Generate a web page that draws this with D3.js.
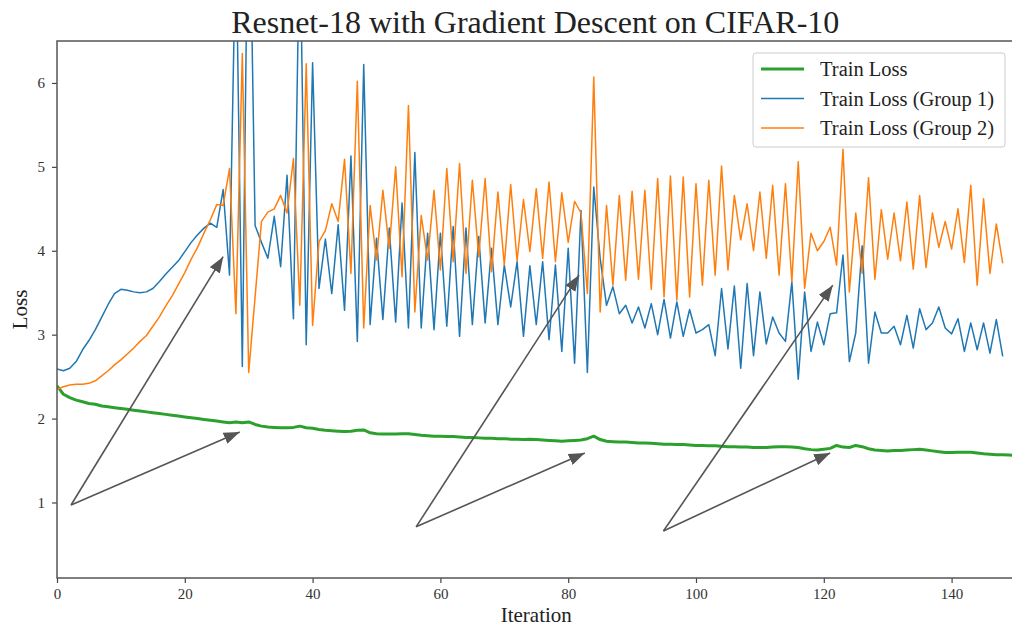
<!DOCTYPE html>
<html>
  <head>
    <title>Resnet-18 with Gradient Descent on CIFAR-10</title>
    <style>
      body,
      html {
        margin: 0;
        padding: 0;
        background: #fff;
      }
      svg {
        display: block;
        font-family: 'Liberation Serif', 'DejaVu Serif', serif;
      }
    </style>
  </head>
  <body>
    <svg id="svg" width="1012" height="627"></svg>
    <script src="https://cdn.jsdelivr.net/npm/d3@7"></script>
    <script>
      // values, one per iteration
      const trainLoss = [
        2.39, 2.29, 2.25, 2.22, 2.2, 2.18, 2.17, 2.15, 2.14, 2.13,
        2.12, 2.11, 2.1, 2.09, 2.08, 2.07, 2.06, 2.05, 2.04, 2.03,
        2.02, 2.01, 2.0, 1.99, 1.98, 1.97, 1.96, 1.95, 1.96, 1.95,
        1.96, 1.93, 1.91, 1.9, 1.895, 1.89, 1.89, 1.895, 1.91, 1.89,
        1.885, 1.87, 1.86, 1.855, 1.85, 1.845, 1.85, 1.86, 1.865, 1.83,
        1.82, 1.815, 1.815, 1.815, 1.82, 1.82, 1.81, 1.8, 1.795, 1.79,
        1.79, 1.785, 1.785, 1.78, 1.775, 1.775, 1.77, 1.765, 1.765, 1.76,
        1.76, 1.755, 1.755, 1.75, 1.755, 1.75, 1.745, 1.74, 1.735, 1.73,
        1.735, 1.74, 1.745, 1.76, 1.79, 1.75, 1.73, 1.725, 1.72, 1.72,
        1.715, 1.71, 1.71, 1.705, 1.7, 1.695, 1.695, 1.69, 1.69, 1.685,
        1.68, 1.68, 1.675, 1.675, 1.67, 1.665, 1.665, 1.66, 1.66, 1.655,
        1.655, 1.655, 1.66, 1.665, 1.665, 1.66, 1.655, 1.64, 1.63, 1.625,
        1.635, 1.645, 1.68, 1.66, 1.655, 1.68, 1.665, 1.64, 1.625, 1.62,
        1.615, 1.62, 1.62, 1.625, 1.63, 1.635, 1.625, 1.615, 1.605, 1.595,
        1.595, 1.6, 1.6, 1.6, 1.59, 1.58, 1.575, 1.57, 1.57, 1.565,
        1.56
      ];
      const group1Loss = [
        2.59, 2.57, 2.6, 2.68, 2.82, 2.93, 3.06, 3.21, 3.36, 3.49,
        3.54, 3.53, 3.51, 3.5, 3.51, 3.55, 3.63, 3.72, 3.8, 3.88,
        3.99, 4.1, 4.19, 4.27, 4.33, 4.28, 4.73, 3.71, 7.8, 2.62,
        9.0, 4.3, 4.1, 3.91, 4.41, 3.81, 4.9, 3.19, 7.9, 2.88,
        6.24, 3.55, 4.14, 3.49, 4.31, 3.29, 5.13, 2.92, 6.22, 3.12,
        4.15, 3.18, 4.27, 3.15, 4.57, 3.08, 5.17, 3.08, 4.21, 3.06,
        4.21, 3.1, 4.29, 2.98, 4.27, 3.12, 4.17, 3.14, 4.03, 3.12,
        3.83, 3.33, 3.87, 2.98, 3.82, 3.12, 3.87, 2.94, 3.83, 2.8,
        4.03, 2.66, 4.48, 2.55, 4.76, 3.91, 3.35, 3.57, 3.25, 3.35,
        3.14, 3.33, 3.08, 3.37, 3.0, 3.42, 2.96, 3.39, 2.98, 3.3,
        3.02, 3.06, 3.12, 2.75, 3.55, 2.83, 3.58, 2.6, 3.61, 2.75,
        3.51, 2.89, 3.21, 3.02, 2.92, 3.63, 2.47, 3.51, 2.8, 3.15,
        2.88, 3.25, 3.26, 3.95, 2.68, 3.02, 4.06, 2.66, 3.27, 3.02,
        3.02, 3.1, 2.88, 3.23, 2.84, 3.31, 3.06, 3.14, 3.33, 3.08,
        3.01, 3.19, 2.8, 3.14, 2.82, 3.14, 2.78, 3.18, 2.74
      ];
      const group2Loss = [
        2.35, 2.38, 2.4, 2.41, 2.41, 2.42, 2.45, 2.51, 2.57, 2.64,
        2.7, 2.77, 2.84, 2.92, 2.99, 3.1, 3.21, 3.34, 3.46, 3.6,
        3.74, 3.9, 4.04, 4.21, 4.37, 4.55, 4.54, 4.98, 3.25, 6.35,
        2.55, 3.45, 4.35, 4.46, 4.5, 4.66, 4.45, 5.1, 3.35, 6.23,
        3.11, 4.11, 4.24, 4.56, 4.35, 5.09, 3.73, 6.02, 3.08, 4.54,
        3.89, 4.72, 4.03, 5.0, 3.69, 5.73, 3.27, 4.42, 3.89, 4.72,
        3.77, 4.98, 3.87, 5.04, 3.73, 4.84, 3.93, 4.86, 3.75, 4.7,
        3.83, 4.79, 3.88, 4.61, 3.99, 4.74, 3.91, 4.82, 3.87, 4.69,
        4.1, 4.59, 4.45, 3.49, 6.07, 3.27, 4.54, 3.59, 4.66, 3.65,
        4.71, 3.66, 4.72, 3.54, 4.86, 3.45, 4.89, 3.41, 4.88, 3.45,
        4.8, 3.59, 4.84, 3.71, 5.01, 3.77, 4.66, 4.13, 4.56, 4.0,
        4.7, 3.91, 4.78, 3.71, 4.8, 3.63, 5.06, 3.55, 4.21, 4.0,
        4.11, 4.28, 3.83, 5.21, 3.51, 4.45, 3.73, 4.87, 3.66, 4.49,
        3.9, 4.45, 3.88, 4.58, 3.78, 4.66, 3.8, 4.45, 4.04, 4.35,
        4.02, 4.5, 3.86, 4.78, 3.59, 4.62, 3.73, 4.32, 3.85
      ];
      const seriesNames = ['Train Loss', 'Train Loss (Group 1)', 'Train Loss (Group 2)'];
      const xTicks = [0, 20, 40, 60, 80, 100, 120, 140];
      const yTicks = [1, 2, 3, 4, 5, 6];
      // annotation arrows, in data units: one tail, two heads each
      const arrowTails = [[2.2, 0.97], [56.2, 0.71], [94.9, 0.66]];
      const arrowHeads = [
        [[26.0, 3.93], [28.6, 1.84]],
        [[81.7, 3.71], [82.6, 1.59]],
        [[121.4, 3.59], [121.0, 1.59]]
      ];

      const colors = ['#2ca02c', '#1f77b4', '#ff7f0e'];
      const widths = [3, 1.5, 1.5];
      const plotLeft = 57;
      const plotTop = 41;
      const plotBottom = 578;
      const plotRight = 1015.5;

      const x = d3.scaleLinear().domain([0, 150]).range([plotLeft, plotRight]);
      const y = d3.scaleLinear().domain([0.1, 6.5]).range([plotBottom, plotTop]);

      const svg = d3.select('#svg');
      const defs = svg.append('defs');

      defs
        .append('clipPath')
        .attr('id', 'plot-clip')
        .append('rect')
        .attr('x', plotLeft)
        .attr('y', plotTop)
        .attr('width', plotRight - plotLeft)
        .attr('height', plotBottom - plotTop);

      defs
        .append('marker')
        .attr('id', 'head')
        .attr('markerUnits', 'userSpaceOnUse')
        .attr('viewBox', '0 0 16 12')
        .attr('refX', 16)
        .attr('refY', 6)
        .attr('markerWidth', 16)
        .attr('markerHeight', 12)
        .attr('orient', 'auto')
        .append('path')
        .attr('d', 'M0,0 L16,6 L0,12 Z')
        .attr('fill', '#555');

      // title and axis labels
      svg
        .append('text')
        .attr('x', (plotLeft + plotRight) / 2 - 1)
        .attr('y', 33)
        .attr('text-anchor', 'middle')
        .attr('font-size', 32)
        .attr('fill', '#222')
        .text('Resnet-18 with Gradient Descent on CIFAR-10');

      svg
        .append('text')
        .attr('transform', `translate(27, ${(plotTop + plotBottom) / 2}) rotate(-90)`)
        .attr('text-anchor', 'middle')
        .attr('font-size', 21)
        .attr('fill', '#222')
        .text('Loss');

      svg
        .append('text')
        .attr('x', (plotLeft + plotRight) / 2)
        .attr('y', 622)
        .attr('text-anchor', 'middle')
        .attr('font-size', 21)
        .attr('fill', '#222')
        .text('Iteration');

      // lines
      const lineGen = d3
        .line()
        .x((d, i) => x(i))
        .y((d) => y(d));

      const lines = svg.append('g').attr('clip-path', 'url(#plot-clip)');
      [trainLoss, group1Loss, group2Loss].forEach((s, k) => {
        lines
          .append('path')
          .datum(s)
          .attr('d', lineGen)
          .attr('fill', 'none')
          .attr('stroke', colors[k])
          .attr('stroke-width', widths[k])
          .attr('stroke-linejoin', 'round');
      });

      // arrows
      const arrows = svg.append('g');
      arrowTails.forEach((t, k) => {
        arrowHeads[k].forEach((h) => {
          arrows
            .append('line')
            .attr('x1', x(t[0]))
            .attr('y1', y(t[1]))
            .attr('x2', x(h[0]))
            .attr('y2', y(h[1]))
            .attr('stroke', '#555')
            .attr('stroke-width', 1.6)
            .attr('marker-end', 'url(#head)');
        });
      });

      // axes
      const xAxis = svg
        .append('g')
        .attr('transform', `translate(0, ${plotBottom})`)
        .call(d3.axisBottom(x).tickValues(xTicks).tickSize(5).tickPadding(5));
      const yAxis = svg
        .append('g')
        .attr('transform', `translate(${plotLeft}, 0)`)
        .call(
          d3.axisLeft(y).tickValues(yTicks).tickFormat(d3.format('d')).tickSize(5).tickPadding(7)
        );

      [xAxis, yAxis].forEach((a) => {
        a.select('.domain').remove();
        a.selectAll('line').attr('stroke', '#444').attr('stroke-width', 1.2);
        a.selectAll('text')
          .attr('font-family', "'Liberation Serif', 'DejaVu Serif', serif")
          .attr('font-size', 15)
          .attr('fill', '#333');
      });

      svg
        .append('rect')
        .attr('x', plotLeft)
        .attr('y', plotTop)
        .attr('width', plotRight - plotLeft)
        .attr('height', plotBottom - plotTop)
        .attr('fill', 'none')
        .attr('stroke', '#555')
        .attr('stroke-width', 1.5);

      // legend
      const legend = svg.append('g').attr('transform', 'translate(753, 53)');
      legend
        .append('rect')
        .attr('width', 252)
        .attr('height', 94)
        .attr('rx', 3)
        .attr('fill', '#fff')
        .attr('fill-opacity', 0.85)
        .attr('stroke', '#ccc');
      seriesNames.forEach((name, k) => {
        const row = legend.append('g').attr('transform', `translate(0, ${16 + k * 29.5})`);
        row
          .append('line')
          .attr('x1', 8)
          .attr('x2', 51)
          .attr('stroke', colors[k])
          .attr('stroke-width', widths[k]);
        row
          .append('text')
          .attr('x', 67)
          .attr('y', 7)
          .attr('font-size', 20.5)
          .attr('fill', '#222')
          .text(name);
      });
    </script>
  </body>
</html>
